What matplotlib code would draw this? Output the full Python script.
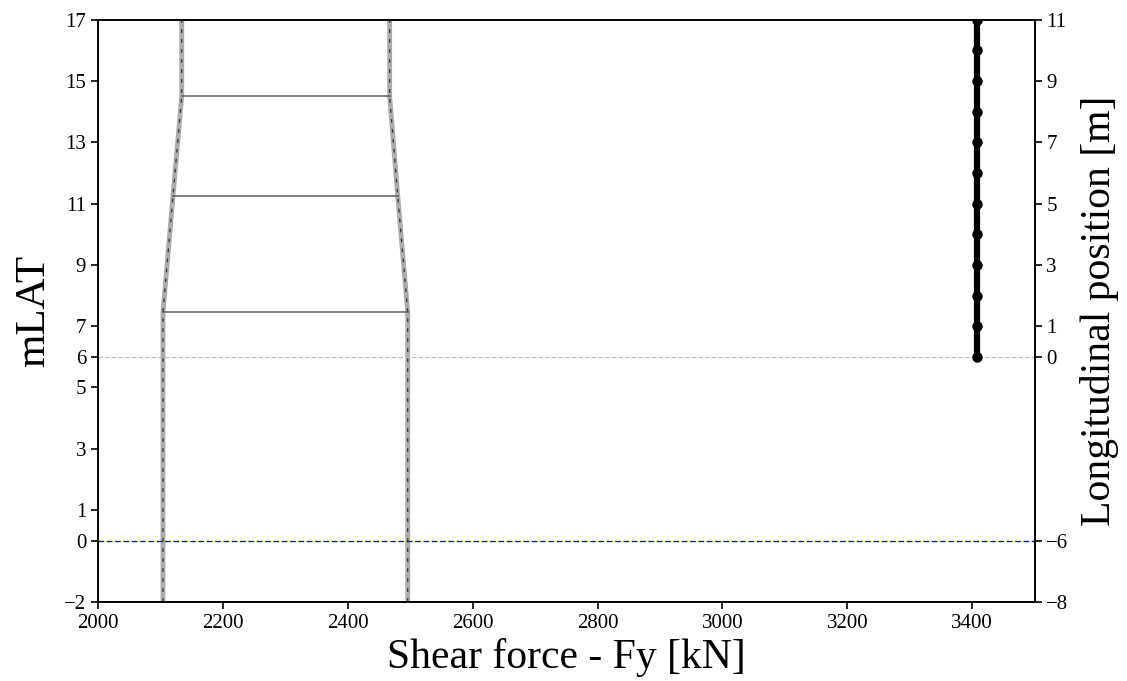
import matplotlib.pyplot as plt
import numpy as np

plt.rcParams['font.family'] = ['Liberation Serif', 'DejaVu Serif']

# outline of the section (mLAT levels and shear force limits)
levels = [-2, 7.45, 11.25, 14.5, 17]
left_fy = [2104, 2104, 2120, 2134, 2134]
right_fy = [2496, 2496, 2480, 2467, 2467]
rungs = [-2, 7.45, 11.25, 14.5]

# pile positions on the right axis
long_pos = [0, 1, 2, 3, 4, 5, 6, 7, 8, 9, 10, 11]
pile_fy = 3407

left_ticks = [-2, 0, 1, 3, 5, 6, 7, 9, 11, 13, 15, 17]
right_ticks = [-8, -6, 0, 1, 3, 5, 7, 9, 11]

fig = plt.figure(figsize=(11.27, 6.81), dpi=100)
ax = fig.add_axes([0.087, 0.116, 0.831, 0.855])

for xs in (left_fy, right_fy):
    ax.plot(xs, levels, color='#888888', lw=3.5, alpha=0.7, solid_capstyle='butt')
    ax.plot(xs, levels, color='#333333', lw=0.9, ls=(0, (3, 5)))

for lv in rungs:
    i = levels.index(lv)
    ax.plot([left_fy[i], right_fy[i]], [lv, lv], color='#555555', lw=1.3, alpha=0.8)

ax.axhline(0, color='#0000ff', lw=1.0, ls='--', dashes=(4, 2))
ax.axhline(6, color='#bbbbbb', lw=0.8, ls='--', dashes=(4, 2))

ax.set_xlim(2000, 3500)
ax.set_ylim(-2, 17)
ax.set_yticks(left_ticks)
ax.tick_params(labelsize=15, width=1.2, length=5)
ax.set_xlabel('Shear force - Fy [kN]', fontsize=30, labelpad=4)
ax.set_ylabel('mLAT', fontsize=31, labelpad=8)
for s in ax.spines.values():
    s.set_linewidth(1.2)

ax2 = ax.twinx()
ax2.plot([pile_fy] * len(long_pos), long_pos, color='black', lw=4.5,
         marker='o', ms=6.5)
ax2.set_ylim(-8, 11)
ax2.set_yticks(right_ticks)
ax2.tick_params(labelsize=15, width=1.2, length=5)
ax2.set_ylabel('Longitudinal position [m]', fontsize=30, labelpad=8)
for s in ax2.spines.values():
    s.set_linewidth(1.2)

fig.savefig('out.png', dpi=100)
